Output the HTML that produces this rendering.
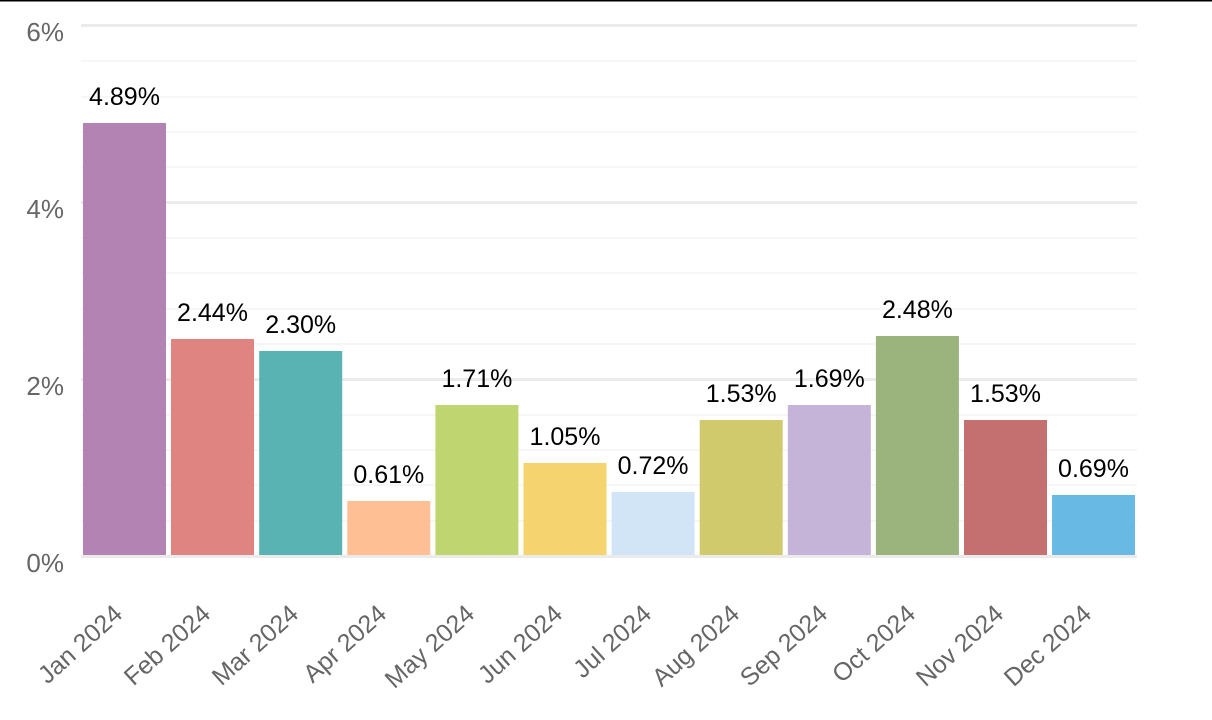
<!DOCTYPE html>
<html><head><meta charset="utf-8"><style>
html,body{margin:0;padding:0;background:#fff;}
svg{display:block;font-family:"Liberation Sans",sans-serif;}
</style></head><body>
<svg width="1212" height="720" viewBox="0 0 1212 720">
<line x1="0" y1="0.5" x2="1212" y2="0.5" stroke="#000" stroke-width="2"/>
<g stroke="#f6f6f6" stroke-width="2">
<line x1="81" x2="1137" y1="61" y2="61"/><line x1="81" x2="1137" y1="97" y2="97"/><line x1="81" x2="1137" y1="132" y2="132"/><line x1="81" x2="1137" y1="167" y2="167"/>
<line x1="81" x2="1137" y1="238" y2="238"/><line x1="81" x2="1137" y1="273" y2="273"/><line x1="81" x2="1137" y1="309" y2="309"/><line x1="81" x2="1137" y1="344" y2="344"/>
<line x1="81" x2="1137" y1="415" y2="415"/><line x1="81" x2="1137" y1="450" y2="450"/><line x1="81" x2="1137" y1="485" y2="485"/><line x1="81" x2="1137" y1="521" y2="521"/>
</g>
<g stroke="#ebebeb" stroke-width="3">
<line x1="81" x2="1137" y1="25.5" y2="25.5"/><line x1="81" x2="1137" y1="202.5" y2="202.5"/><line x1="81" x2="1137" y1="379.5" y2="379.5"/>
</g>
<g font-size="26" fill="#666" text-anchor="end">
<text x="64" y="41">6%</text><text x="64" y="218">4%</text><text x="64" y="395">2%</text><text x="64" y="572">0%</text>
</g>
<g>
<rect x="83" y="123" width="83" height="433" fill="#b384b3"/>
<rect x="171" y="339" width="83" height="217" fill="#e08481"/>
<rect x="259.2" y="351" width="83" height="205" fill="#5ab3b3"/>
<rect x="347.3" y="501" width="83" height="55" fill="#ffbf94"/>
<rect x="435.4" y="405" width="83" height="151" fill="#bfd670"/>
<rect x="523.5" y="463" width="83" height="93" fill="#f5d470"/>
<rect x="611.6" y="492" width="83" height="64" fill="#d1e5f7"/>
<rect x="699.7" y="420" width="83" height="136" fill="#d0ca6c"/>
<rect x="787.8" y="405" width="83" height="151" fill="#c5b4d7"/>
<rect x="875.9" y="336" width="83" height="220" fill="#9bb47d"/>
<rect x="964" y="420" width="83" height="136" fill="#c57070"/>
<rect x="1052" y="495" width="83" height="61" fill="#68b9e4"/>
</g>
<line x1="81" x2="1137" y1="556.5" y2="556.5" stroke="#ebebeb" stroke-width="3"/>
<g font-size="25" fill="#000" text-anchor="middle">
<text x="124.5" y="105">4.89%</text>
<text x="212.5" y="321">2.44%</text>
<text x="300.7" y="333">2.30%</text>
<text x="388.8" y="483">0.61%</text>
<text x="476.9" y="387">1.71%</text>
<text x="565" y="445">1.05%</text>
<text x="653.1" y="474">0.72%</text>
<text x="741.2" y="402">1.53%</text>
<text x="829.3" y="387">1.69%</text>
<text x="917.4" y="318">2.48%</text>
<text x="1005.5" y="402">1.53%</text>
<text x="1093.5" y="477">0.69%</text>
</g>
<g font-size="25" fill="#666" text-anchor="end">
<text transform="translate(124,616) rotate(-42)">Jan 2024</text>
<text transform="translate(212,616) rotate(-42)">Feb 2024</text>
<text transform="translate(300,616) rotate(-42)">Mar 2024</text>
<text transform="translate(388,616) rotate(-42)">Apr 2024</text>
<text transform="translate(476,616) rotate(-42)">May 2024</text>
<text transform="translate(564,616) rotate(-42)">Jun 2024</text>
<text transform="translate(653,616) rotate(-42)">Jul 2024</text>
<text transform="translate(741,616) rotate(-42)">Aug 2024</text>
<text transform="translate(829,616) rotate(-42)">Sep 2024</text>
<text transform="translate(917,616) rotate(-42)">Oct 2024</text>
<text transform="translate(1005,616) rotate(-42)">Nov 2024</text>
<text transform="translate(1093,616) rotate(-42)">Dec 2024</text>
</g>
</svg>
</body></html>
